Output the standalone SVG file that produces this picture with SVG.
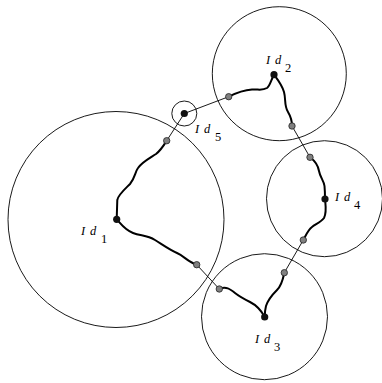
<svg xmlns="http://www.w3.org/2000/svg" width="382" height="383" viewBox="0 0 382 383">
  <style>
    .zone { fill: none; stroke: #000; stroke-width: 0.9; }
    .link { fill: none; stroke: #000; stroke-width: 0.9; }
    .route { fill: none; stroke: #000; stroke-width: 2; stroke-linecap: round; stroke-linejoin: round; }
    .node { fill: #111; }
    .port { fill: #808080; stroke: #222; stroke-width: 0.8; }
    .lbl { font-family: "Liberation Serif", "DejaVu Serif", serif; font-style: italic; font-size: 12.5px; fill: #000; }
    .sub { font-style: normal; font-size: 12.5px; }
  </style>
  <rect width="382" height="383" fill="#fff"/>

  <!-- coverage circles -->
  <g id="zones">
    <circle class="zone" cx="116" cy="219.5" r="108"/>
    <circle class="zone" cx="279.3" cy="73.7" r="67"/>
    <circle class="zone" cx="324.5" cy="198.7" r="58"/>
    <circle class="zone" cx="264.5" cy="316.7" r="63"/>
    <circle class="zone" cx="184.3" cy="113.5" r="12.5"/>
  </g>

  <!-- connectors: straight hops and wavy routes -->
  <g id="connectors">
    <line class="link" x1="184.3" y1="113.5" x2="166.7" y2="140.7"/>
    <line class="link" x1="184.3" y1="113.5" x2="228.7" y2="96.7"/>
    <line class="link" x1="292" y1="126" x2="310" y2="157.3"/>
    <line class="link" x1="303.3" y1="240" x2="284.3" y2="272.7"/>
    <line class="link" x1="219.3" y1="289" x2="196.7" y2="264.7"/>

    <path class="route" d="M116.7,219.3 L117.3,200 C118,195 125,189 130,184 C135,178 135,172 138,168 C142,162 150,158 156,154 C161,150 164,145 166.7,140.7"/>
    <path class="route" d="M116.7,219.3 C121,224 125,230 133,233 C141,236 147,235 155,240 C163,245 170,250 177,253 C184,256 188,262 196.7,264.7"/>
    <path class="route" d="M228.7,96.7 C236,93 244,90 252,89.5 C258,89 262,91 267,88 C270,86 271,80 274,74.7"/>
    <path class="route" d="M274,74.7 C278,80 282,85 284,92 C286,99 284,106 288,112 C291,117 292,121 292,126"/>
    <path class="route" d="M310,157.3 C315,161 318,165 319,171 C320,177 324,181 324.5,186 C325,191 325,195 325,199"/>
    <path class="route" d="M325,199 C325.5,205 327,212 324,218 C321,222 316,224 312,227 C308,230 306,235 303.3,240"/>
    <path class="route" d="M284.3,272.7 C283,279 282,285 277,290 C272,295 268,300 266,306 C265,310 264.7,313 264.7,317"/>
    <path class="route" d="M264.7,317 C261,310 256,305 250,302 C244,299 240,297 235,293 C230,289 226,286 219.3,289"/>

    <circle class="port" cx="166.7" cy="140.7" r="3.2"/>
    <circle class="port" cx="196.7" cy="264.7" r="3.2"/>
    <circle class="port" cx="219.3" cy="289" r="3.2"/>
    <circle class="port" cx="228.7" cy="96.7" r="3.2"/>
    <circle class="port" cx="292" cy="126" r="3.2"/>
    <circle class="port" cx="310" cy="157.3" r="3.2"/>
    <circle class="port" cx="303.3" cy="240" r="3.2"/>
    <circle class="port" cx="284.3" cy="272.7" r="3.2"/>
  </g>

  <g id="id1">
    <circle class="node" cx="116.7" cy="219.3" r="3.6"/>
    <text class="lbl"><tspan x="81" y="235">I</tspan><tspan x="90" y="235">d</tspan><tspan class="sub" x="101" y="243">1</tspan></text>
  </g>
  <g id="id2">
    <circle class="node" cx="274" cy="74.7" r="3.6"/>
    <text class="lbl"><tspan x="266" y="63.5">I</tspan><tspan x="275" y="63.5">d</tspan><tspan class="sub" x="285" y="71.5">2</tspan></text>
  </g>
  <g id="id3">
    <circle class="node" cx="264.7" cy="317" r="3.6"/>
    <text class="lbl"><tspan x="255" y="343">I</tspan><tspan x="264" y="343">d</tspan><tspan class="sub" x="274" y="351">3</tspan></text>
  </g>
  <g id="id4">
    <circle class="node" cx="325" cy="199" r="3.6"/>
    <text class="lbl"><tspan x="335" y="200.5">I</tspan><tspan x="344" y="200.5">d</tspan><tspan class="sub" x="354" y="208.5">4</tspan></text>
  </g>
  <g id="id5">
    <circle class="node" cx="184.3" cy="113.5" r="3.6"/>
    <text class="lbl"><tspan x="195" y="132.5">I</tspan><tspan x="204" y="132.5">d</tspan><tspan class="sub" x="215" y="140.5">5</tspan></text>
  </g>
</svg>
